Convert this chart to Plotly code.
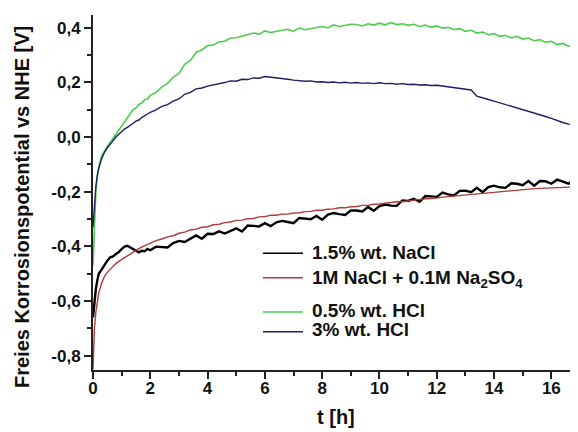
import plotly.graph_objects as go

# time axis [h]
T = [0, 0.05, 0.1, 0.15, 0.2, 0.3, 0.4, 0.5, 0.6, 0.7, 0.8, 0.9, 1.0, 1.1, 1.2, 1.3, 1.4, 1.5, 1.6, 1.7, 1.8, 1.9, 2.0,
     2.2, 2.4, 2.6, 2.8, 3.0, 3.2, 3.4, 3.6, 3.8, 4.0, 4.2, 4.4, 4.6, 4.8, 5.0, 5.2, 5.4, 5.6, 5.8, 6.0,
     6.2, 6.4, 6.6, 6.8, 7.0, 7.2, 7.4, 7.6, 7.8, 8.0, 8.2, 8.4, 8.6, 8.8, 9.0, 9.2, 9.4, 9.6, 9.8, 10.0,
     10.2, 10.4, 10.6, 10.8, 11.0, 11.2, 11.4, 11.6, 11.8, 12.0, 12.2, 12.4, 12.6, 12.8, 13.0, 13.2, 13.4, 13.6, 13.8, 14.0,
     14.2, 14.4, 14.6, 14.8, 15.0, 15.2, 15.4, 15.6, 15.8, 16.0, 16.2, 16.4, 16.6, 16.8, 17.0]

NACL_15 = [-0.66, -0.6, -0.555, -0.525, -0.5, -0.485, -0.468, -0.452, -0.44, -0.437, -0.428, -0.421, -0.41, -0.401, -0.398, -0.404, -0.41, -0.417, -0.422, -0.416, -0.418, -0.409, -0.414,
           -0.401, -0.403, -0.404, -0.388, -0.38, -0.384, -0.372, -0.36, -0.372, -0.354, -0.355, -0.345, -0.353, -0.343, -0.334, -0.346, -0.324, -0.325, -0.327, -0.315,
           -0.326, -0.312, -0.307, -0.311, -0.315, -0.296, -0.299, -0.301, -0.289, -0.303, -0.284, -0.278, -0.282, -0.285, -0.269, -0.269, -0.272, -0.256, -0.27, -0.253,
           -0.247, -0.251, -0.252, -0.232, -0.234, -0.226, -0.237, -0.216, -0.217, -0.219, -0.203, -0.21, -0.214, -0.197, -0.196, -0.202, -0.186, -0.202, -0.183, -0.178,
           -0.184, -0.186, -0.169, -0.171, -0.176, -0.161, -0.178, -0.161, -0.162, -0.171, -0.156, -0.164, -0.171, -0.155, -0.157]

NACL_NA2SO4 = [-0.85, -0.7, -0.64, -0.6, -0.57, -0.535, -0.51, -0.495, -0.483, -0.472, -0.463, -0.455, -0.448, -0.44, -0.433, -0.427, -0.42, -0.414, -0.408, -0.403, -0.398, -0.393, -0.388,
               -0.379, -0.373, -0.365, -0.361, -0.352, -0.348, -0.34, -0.337, -0.33, -0.328, -0.321, -0.319, -0.313, -0.311, -0.305, -0.304, -0.299, -0.298, -0.292, -0.291,
               -0.286, -0.286, -0.282, -0.282, -0.278, -0.277, -0.273, -0.272, -0.268, -0.268, -0.264, -0.263, -0.259, -0.259, -0.255, -0.254, -0.25, -0.25, -0.246, -0.245,
               -0.242, -0.241, -0.237, -0.237, -0.233, -0.231, -0.228, -0.227, -0.224, -0.223, -0.22, -0.218, -0.215, -0.214, -0.211, -0.21, -0.207, -0.206, -0.203, -0.202,
               -0.199, -0.198, -0.195, -0.194, -0.192, -0.191, -0.189, -0.188, -0.187, -0.186, -0.185, -0.184, -0.184, -0.183, -0.182]

HCL_05 = [-0.47, -0.30, -0.20, -0.145, -0.11, -0.07, -0.05, -0.034, -0.02, -0.006, 0.008, 0.024, 0.04, 0.055, 0.07, 0.083, 0.1, 0.106, 0.119, 0.124, 0.136, 0.139, 0.152,
          0.163, 0.182, 0.196, 0.218, 0.232, 0.266, 0.28, 0.31, 0.318, 0.334, 0.336, 0.348, 0.35, 0.362, 0.363, 0.368, 0.374, 0.38, 0.376, 0.388,
          0.382, 0.386, 0.392, 0.394, 0.387, 0.398, 0.392, 0.396, 0.401, 0.404, 0.399, 0.41, 0.404, 0.407, 0.412, 0.411, 0.406, 0.414, 0.409, 0.416,
          0.41, 0.418, 0.411, 0.414, 0.408, 0.412, 0.404, 0.409, 0.401, 0.406, 0.398, 0.401, 0.392, 0.396, 0.386, 0.39, 0.38, 0.384, 0.374, 0.378,
          0.368, 0.372, 0.362, 0.368, 0.358, 0.362, 0.352, 0.356, 0.346, 0.35, 0.338, 0.342, 0.332, 0.334, 0.33]

HCL_3 = [-0.33, -0.24, -0.18, -0.14, -0.115, -0.08, -0.056, -0.04, -0.026, -0.012, 0.0, 0.01, 0.02, 0.029, 0.035, 0.044, 0.05, 0.058, 0.062, 0.071, 0.076, 0.084, 0.09,
         0.099, 0.112, 0.118, 0.131, 0.139, 0.156, 0.163, 0.176, 0.179, 0.186, 0.19, 0.196, 0.199, 0.205, 0.204, 0.211, 0.21, 0.216, 0.215, 0.221,
         0.219, 0.217, 0.214, 0.211, 0.208, 0.206, 0.204, 0.205, 0.201, 0.202, 0.199, 0.201, 0.198, 0.2, 0.197, 0.199, 0.196, 0.198, 0.195, 0.198,
         0.195, 0.196, 0.193, 0.195, 0.192, 0.193, 0.19, 0.191, 0.188, 0.189, 0.186, 0.184, 0.181, 0.178, 0.176, 0.172, 0.149, 0.144, 0.137, 0.131,
         0.125, 0.119, 0.112, 0.106, 0.1, 0.093, 0.087, 0.081, 0.075, 0.068, 0.06, 0.053, 0.047, 0.043, 0.04]

NAMES = ["1.5% wt. NaCl", "1M NaCl + 0.1M Na<sub>2</sub>SO<sub>4</sub>", "0.5% wt. HCl", "3% wt. HCl"]
COLORS = ["#000000", "#b03a3a", "#4ccd4c", "#1c1f66"]
WIDTHS = [2.4, 1.4, 1.6, 1.4]

X_TICKS = [0, 2, 4, 6, 8, 10, 12, 14, 16]
Y_TICKS = [-0.8, -0.6, -0.4, -0.2, 0.0, 0.2, 0.4]
Y_TICKTEXT = ["-0,8", "-0,6", "-0,4", "-0,2", "0,0", "0,2", "0,4"]

# legend layout (paper coordinates of the plot area)
LEG_LINE_X = (0.3505, 0.433)
LEG_TEXT_X = 0.4474
LEG_LINE_Y = [0.3287, 0.260, 0.1634, 0.1079]
LEG_TEXT_Y = [0.3296, 0.2563, 0.1662, 0.1127]

FONT = "Liberation Sans, Arial, sans-serif"

fig = go.Figure()
for name, ys, c, w in zip(NAMES, [NACL_15, NACL_NA2SO4, HCL_05, HCL_3], COLORS, WIDTHS):
    fig.add_trace(go.Scatter(x=T, y=ys, mode="lines", name=name, showlegend=False,
                             line=dict(color=c, width=w)))

axis_common = dict(showline=True, linecolor="#222", linewidth=2, ticks="outside", ticklen=7,
                   tickwidth=2, tickcolor="#222", showgrid=False, zeroline=False,
                   tickfont=dict(family=FONT, size=17, color="#111", weight="bold"))

fig.update_xaxes(range=[0, 16.93], tickvals=X_TICKS, ticklabelstandoff=-5,
                 minor=dict(dtick=1, ticks="outside", ticklen=4, tickwidth=1.5, tickcolor="#222"),
                 **axis_common)
fig.update_yaxes(range=[-0.852, 0.446], tickvals=Y_TICKS, ticktext=Y_TICKTEXT,
                 minor=dict(dtick=0.1, ticks="outside", ticklen=4, tickwidth=1.5, tickcolor="#222"),
                 **axis_common)

shapes = []
annotations = [
    dict(text="Freies Korrosionspotential vs NHE [V]", xref="paper", yref="paper",
         x=-0.1464, y=0.459, xanchor="center", yanchor="middle", textangle=-90, showarrow=False,
         font=dict(family=FONT, size=20, color="#111", weight="bold")),
    dict(text="t [h]", xref="paper", yref="paper", x=0.501, y=-0.1324,
         xanchor="center", yanchor="middle", showarrow=False,
         font=dict(family=FONT, size=20, color="#111", weight="bold")),
]
for name, c, ly, ty in zip(NAMES, COLORS, LEG_LINE_Y, LEG_TEXT_Y):
    shapes.append(dict(type="line", xref="paper", yref="paper",
                       x0=LEG_LINE_X[0], x1=LEG_LINE_X[1], y0=ly, y1=ly,
                       line=dict(color=c, width=1.5)))
    annotations.append(dict(text=name, xref="paper", yref="paper", x=LEG_TEXT_X, y=ty,
                            xanchor="left", yanchor="middle", showarrow=False,
                            font=dict(family=FONT, size=19, color="#111", weight="bold")))

fig.update_layout(
    width=570, height=424,
    margin=dict(l=85, r=0, t=7, b=62),
    paper_bgcolor="white", plot_bgcolor="white",
    showlegend=False,
    shapes=shapes,
    annotations=annotations,
)

fig.write_html("out.html")
